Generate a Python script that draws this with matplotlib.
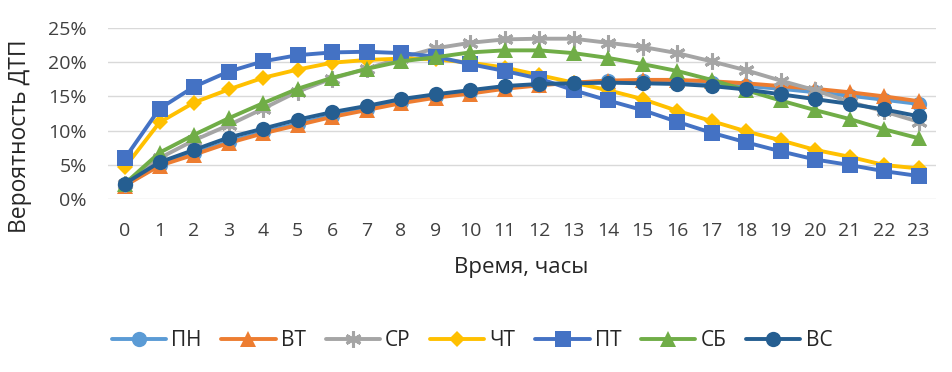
import matplotlib
matplotlib.use("Agg")
import matplotlib.pyplot as plt
from matplotlib.ticker import FuncFormatter

plt.rcParams['font.family'] = ['Open Sans', 'DejaVu Sans']

hours = list(range(24))
hour_labels = [str(h) for h in hours]

pn = [2.1, 5.0, 6.7, 8.4, 9.8, 11.0, 12.2, 13.2, 14.2, 15.0, 15.6, 16.3, 16.7, 17.0, 17.2, 17.2, 17.1, 16.9, 16.5, 16.1, 15.6, 15.1, 14.5, 13.9]
vt = [2.0, 4.9, 6.5, 8.2, 9.6, 10.8, 12.0, 13.0, 14.0, 14.8, 15.4, 16.1, 16.6, 17.0, 17.3, 17.4, 17.4, 17.2, 16.9, 16.5, 16.1, 15.6, 15.0, 14.3]
sr = [2.2, 6.0, 8.6, 10.8, 13.2, 15.7, 17.6, 19.0, 20.6, 22.0, 22.8, 23.3, 23.4, 23.4, 22.8, 22.2, 21.3, 20.1, 18.8, 17.3, 15.9, 14.2, 12.8, 11.3]
cht = [4.7, 11.2, 14.1, 16.0, 17.7, 18.9, 19.9, 20.3, 20.5, 20.4, 19.9, 19.2, 18.1, 17.0, 15.9, 14.6, 12.9, 11.4, 9.9, 8.6, 7.2, 6.2, 5.0, 4.5]
pt = [6.0, 13.2, 16.4, 18.6, 20.1, 21.0, 21.4, 21.5, 21.3, 20.8, 19.7, 18.7, 17.6, 15.9, 14.4, 13.0, 11.3, 9.7, 8.3, 7.0, 5.8, 5.0, 4.1, 3.4]
sb = [2.3, 6.8, 9.4, 11.8, 14.0, 16.1, 17.7, 19.0, 20.1, 20.7, 21.4, 21.7, 21.7, 21.3, 20.6, 19.7, 18.7, 17.4, 15.9, 14.4, 13.0, 11.7, 10.2, 8.9]
vs = [2.3, 5.4, 7.2, 9.0, 10.3, 11.6, 12.7, 13.6, 14.6, 15.3, 15.9, 16.5, 16.8, 16.9, 17.0, 16.9, 16.8, 16.5, 16.0, 15.3, 14.6, 13.9, 13.1, 12.1]

names = ['ПН', 'ВТ', 'СР', 'ЧТ', 'ПТ', 'СБ', 'ВС']
series = [pn, vt, sr, cht, pt, sb, vs]
colors = ['#5B9BD5', '#ED7D31', '#A5A5A5', '#FFC000', '#4472C4', '#70AD47', '#255E91']
markers = ['o', '^', (6, 2, 0), 'D', 's', '^', 'o']
msizes = [11, 12, 11.5, 8.5, 11, 12, 11]

fig = plt.figure(figsize=(9.52, 3.72), dpi=100)
ax = fig.add_axes([0.1132, 0.4642, 0.8698, 0.4613])

for name, vals, c, m, ms in zip(names, series, colors, markers, msizes):
    mew = 2.2 if isinstance(m, tuple) else 0
    ax.plot(hours, [v / 100 for v in vals], color=c, lw=2.8, marker=m, ms=ms,
            markeredgewidth=mew, markeredgecolor=c, markerfacecolor=c, label=name,
            solid_capstyle='round')

ax.set_xlim(-0.5, 23.5)
ax.set_ylim(0, 0.25)
ax.set_yticks([0, 0.05, 0.10, 0.15, 0.20, 0.25])
ax.yaxis.set_major_formatter(FuncFormatter(lambda v, p: f"{v*100:.0f}%"))
ax.set_xticks(hours)
ax.set_xticklabels(hour_labels)
ax.grid(axis='y', color='#D9D9D9', lw=1.0)
ax.set_axisbelow(True)
for s in ax.spines.values():
    s.set_visible(False)
ax.tick_params(axis='both', length=0, labelsize=14, colors='#404040')
ax.tick_params(axis='x', pad=16)
ax.tick_params(axis='y', pad=15)

fig.text(20 / 952, 1 - 136 / 372, 'Вероятность ДТП', rotation=90, ha='center', va='center',
         fontsize=16.5, color='#262626')
fig.text(521 / 952, 1 - 268 / 372, 'Время, часы', ha='center', va='center',
         fontsize=16, color='#262626')

leg = fig.legend(loc='center', bbox_to_anchor=(472 / 952, 1 - 341 / 372), ncol=7, frameon=False,
                 fontsize=15, handlelength=2.6, columnspacing=0.95, handletextpad=0.25,
                 borderpad=0, borderaxespad=0)
for t in leg.get_texts():
    t.set_color('#262626')

fig.savefig('out.png', dpi=100)
